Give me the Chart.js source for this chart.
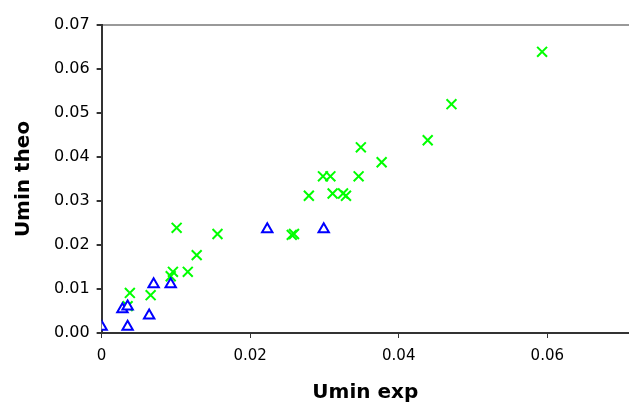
<!DOCTYPE html>
<html>
<head>
<meta charset="utf-8">
<script src="https://cdn.jsdelivr.net/npm/chart.js@4/dist/chart.umd.min.js"></script>
<style>
  body { margin: 0; background: #fff; }
  #wrap { width: 629px; height: 403px; }
</style>
</head>
<body>
<div id="wrap"><canvas id="umChart"></canvas></div>
<script>
// green crosses (Umin exp, Umin theo)
const crossX = [0.0593, 0.0471, 0.0439, 0.0377, 0.0349, 0.0298, 0.0308, 0.0346, 0.0279, 0.0311, 0.0325, 0.0329,
  0.0256, 0.0259, 0.0101, 0.0156, 0.0128, 0.0116, 0.0096, 0.0093, 0.0038, 0.0066, 0.0035];
const crossY = [0.0639, 0.0520, 0.0438, 0.0388, 0.0422, 0.0356, 0.0356, 0.0356, 0.0312, 0.0317, 0.0317, 0.0312,
  0.0223, 0.0225, 0.0239, 0.0225, 0.0177, 0.0139, 0.0139, 0.0129, 0.0091, 0.0086, 0.0061];

// blue triangles
const triX = [0.0000, 0.0035, 0.0064, 0.0028, 0.0035, 0.0070, 0.0093, 0.0223, 0.0299];
const triY = [0.0014, 0.0014, 0.0040, 0.0054, 0.0060, 0.0111, 0.0111, 0.0236, 0.0236];

const xTicks = [0, 0.02, 0.04, 0.06];
const yTicks = [0, 0.01, 0.02, 0.03, 0.04, 0.05, 0.06, 0.07];

const toPoints = (xs, ys) => xs.map((x, i) => ({ x: x, y: ys[i] }));

const fam = 'DejaVu Sans, Verdana, sans-serif';
const titleFont = { family: fam, size: 20, weight: 'bold' };

new Chart(document.getElementById('umChart'), {
  type: 'scatter',
  data: {
    datasets: [
      {
        label: 'triangles',
        data: toPoints(triX, triY),
        pointStyle: 'triangle',
        radius: 6,
        borderWidth: 2,
        borderColor: '#0000ff',
        backgroundColor: '#ffffff',
        order: 0
      },
      {
        label: 'crosses',
        data: toPoints(crossX, crossY),
        pointStyle: 'crossRot',
        radius: 7,
        borderWidth: 2,
        borderColor: '#00ff00',
        backgroundColor: '#00ff00',
        order: 1
      }
    ]
  },
  options: {
    responsive: true,
    maintainAspectRatio: false,
    animation: false,
    layout: { autoPadding: false, padding: { top: 25, right: 0, left: 12, bottom: -2 } },
    plugins: {
      legend: { display: false },
      tooltip: { enabled: false }
    },
    scales: {
      x: {
        type: 'linear',
        min: 0,
        max: 0.071,
        afterBuildTicks: s => { s.ticks = xTicks.map(v => ({ value: v })); },
        afterFit: s => { s.paddingRight = 0; },
        ticks: {
          color: '#000',
          font: { family: fam, size: 15 },
          padding: 9,
          maxRotation: 0,
          callback: v => v === 0 ? '0' : v.toFixed(2)
        },
        grid: { drawOnChartArea: false, tickLength: 5, tickColor: '#333' },
        border: { color: '#333', width: 2 },
        title: { display: true, text: 'Umin exp', color: '#000', font: titleFont, padding: { top: 7, bottom: 0 } }
      },
      y: {
        type: 'linear',
        min: 0,
        max: 0.07,
        afterBuildTicks: s => { s.ticks = yTicks.map(v => ({ value: v })); },
        ticks: {
          color: '#000',
          font: { family: fam, size: 16 },
          padding: 7,
          callback: v => v.toFixed(2)
        },
        grid: {
          tickLength: 5,
          tickColor: '#333',
          lineWidth: 2,
          color: c => (c.tick && c.tick.value === 0.07) ? '#999999' : 'rgba(0,0,0,0)'
        },
        border: { color: '#333', width: 2 },
        title: { display: true, text: 'Umin theo', color: '#000', font: titleFont, padding: { top: 0, bottom: 11 } }
      }
    }
  }
});
</script>
</body>
</html>
